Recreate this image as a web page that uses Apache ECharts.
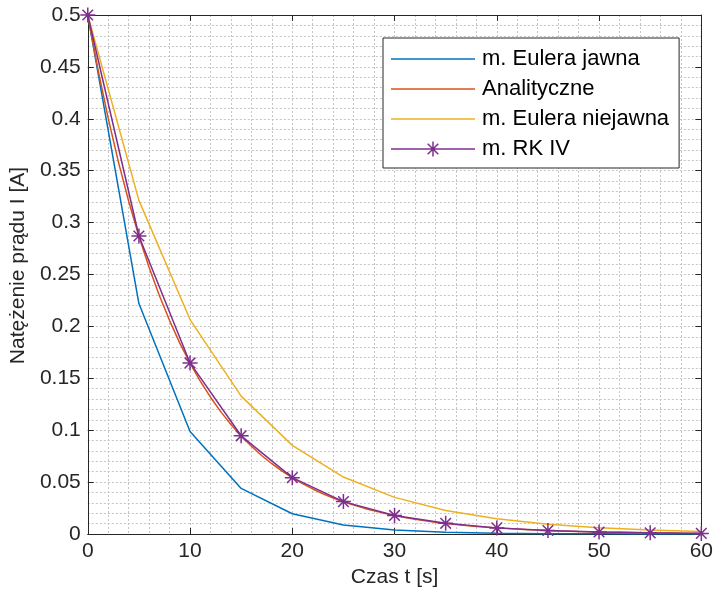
<!DOCTYPE html>
<html>
<head>
<meta charset="utf-8">
<script src="https://cdn.jsdelivr.net/npm/echarts@6/dist/echarts.min.js"></script>
<style>
  html, body { margin: 0; padding: 0; background: #fff; }
  #chart { width: 716px; height: 593px; }
</style>
</head>
<body>
<div id="chart"></div>
<script>
// Time grid of the numerical methods (step h = 5 s)
const tSteps = [0, 5, 10, 15, 20, 25, 30, 35, 40, 45, 50, 55, 60];
// Explicit Euler
const eulerExplicit = [0.5, 0.222, 0.0988, 0.0439, 0.0195, 0.0087, 0.0039, 0.0017, 0.0008, 0.0003, 0.00015, 0.00007, 0.00003];
// Implicit Euler
const eulerImplicit = [0.5, 0.3214, 0.2066, 0.1328, 0.0854, 0.0549, 0.0353, 0.0227, 0.0146, 0.0094, 0.006, 0.0039, 0.0025];
// Runge-Kutta 4th order
const rk4 = [0.5, 0.2871, 0.1648, 0.0946, 0.0543, 0.0312, 0.0179, 0.0103, 0.0059, 0.0034, 0.0019, 0.0011, 0.0006];
// Analytical solution sampled every 1 s
const tFine = [0, 1, 2, 3, 4, 5, 6, 7, 8, 9, 10, 11, 12, 13, 14, 15, 16, 17, 18, 19, 20,
  21, 22, 23, 24, 25, 26, 27, 28, 29, 30, 31, 32, 33, 34, 35, 36, 37, 38, 39, 40,
  41, 42, 43, 44, 45, 46, 47, 48, 49, 50, 51, 52, 53, 54, 55, 56, 57, 58, 59, 60];
const analytical = [0.5, 0.4474, 0.4004, 0.3583, 0.3206, 0.2869, 0.2567, 0.2297, 0.2056, 0.1839, 0.1646,
  0.1473, 0.1318, 0.1179, 0.1055, 0.0944, 0.0845, 0.0756, 0.0677, 0.0605, 0.0542,
  0.0485, 0.0434, 0.0388, 0.0347, 0.0311, 0.0278, 0.0249, 0.0223, 0.0199, 0.0178,
  0.016, 0.0143, 0.0128, 0.0114, 0.0102, 0.0092, 0.0082, 0.0073, 0.0066, 0.0059,
  0.0053, 0.0047, 0.0042, 0.0038, 0.0034, 0.003, 0.0027, 0.0024, 0.0022, 0.0019,
  0.0017, 0.0016, 0.0014, 0.0012, 0.0011, 0.001, 0.0009, 0.0008, 0.0007, 0.0006];

const seriesNames = ['m. Eulera jawna', 'Analityczne', 'm. Eulera niejawna', 'm. RK IV'];
const xTicks = { min: 0, max: 60, interval: 10 };
const yTicks = { min: 0, max: 0.5, interval: 0.05 };

const pair = (xs, ys) => xs.map((x, i) => [x, ys[i]]);

const axisColor = '#262626';
const gridColor = '#c4c4c4';
const font = 'Liberation Sans, Arial, Helvetica, sans-serif';
const asterisk = 'path://M0,-10L0,10M-10,0L10,0M-7.07,-7.07L7.07,7.07M-7.07,7.07L7.07,-7.07';
// plain line sample for legend entries without markers
const lineIcon = 'path://M0,0H84V1.5H0Z';
// line sample with an asterisk in the middle (thin filled bars)
const lineStarIcon = 'path://M0,6.75H84V8.25H0Z' +
  'M41.25,0H42.75V15H41.25Z' +
  'M37.23,1.67L47.83,12.27L46.77,13.33L36.17,2.73Z' +
  'M36.17,12.27L46.77,1.67L47.83,2.73L37.23,13.33Z';

const frameAxis = (extra) => Object.assign({
  type: 'value',
  axisLine: { show: true, onZero: false, lineStyle: { color: axisColor, width: 1 } },
  axisTick: { show: true, inside: true, length: 6, lineStyle: { color: axisColor } },
  axisLabel: { show: false },
  splitLine: { show: false }
}, extra);

const gridLine = { show: true, lineStyle: { color: gridColor, type: [2, 2], width: 1 } };

const chart = echarts.init(document.getElementById('chart'), null, { renderer: 'canvas' });

chart.setOption({
  backgroundColor: '#ffffff',
  animation: false,
  grid: { left: 87, top: 15, width: 618, height: 519, containLabel: false },
  legend: {
    orient: 'vertical',
    left: 383,
    top: 38,
    padding: [10, 10, 8, 8],
    itemGap: 8,
    itemWidth: 84,
    itemHeight: 15,
    backgroundColor: '#ffffff',
    borderColor: axisColor,
    borderWidth: 1,
    borderRadius: 0,
    textStyle: { fontFamily: font, fontSize: 22, color: '#000000', lineHeight: 22, padding: [0, 0, 0, 2] },
    data: [
      { name: seriesNames[0], icon: lineIcon },
      { name: seriesNames[1], icon: lineIcon },
      { name: seriesNames[2], icon: lineIcon },
      { name: seriesNames[3], icon: lineStarIcon, itemStyle: { borderWidth: 0 } }
    ]
  },
  xAxis: [
    frameAxis({
      min: xTicks.min, max: xTicks.max, interval: xTicks.interval,
      position: 'bottom',
      name: 'Czas t [s]',
      nameLocation: 'middle',
      nameGap: 32,
      nameTextStyle: { fontFamily: font, fontSize: 21, color: axisColor },
      axisLabel: { show: true, margin: 7, fontFamily: font, fontSize: 21, color: axisColor },
      splitLine: gridLine,
      minorTick: { show: false, splitNumber: 5 },
      minorSplitLine: gridLine
    }),
    frameAxis({ min: xTicks.min, max: xTicks.max, interval: xTicks.interval, position: 'top' })
  ],
  yAxis: [
    frameAxis({
      min: yTicks.min, max: yTicks.max, interval: yTicks.interval,
      position: 'left',
      name: 'Natężenie prądu I [A]',
      nameLocation: 'middle',
      nameGap: 49,
      nameTextStyle: { fontFamily: font, fontSize: 21, color: axisColor, padding: [0, 0, 0, 18] },
      axisLabel: { show: true, margin: 7, fontFamily: font, fontSize: 21, color: axisColor },
      splitLine: gridLine,
      minorTick: { show: false, splitNumber: 5 },
      minorSplitLine: gridLine
    }),
    frameAxis({ min: yTicks.min, max: yTicks.max, interval: yTicks.interval, position: 'right' })
  ],
  series: [
    {
      name: seriesNames[0], type: 'line', symbol: 'none',
      lineStyle: { color: '#0072BD', width: 1.5 }, itemStyle: { color: '#0072BD' },
      data: pair(tSteps, eulerExplicit)
    },
    {
      name: seriesNames[1], type: 'line', symbol: 'none',
      lineStyle: { color: '#D95319', width: 1.5 }, itemStyle: { color: '#D95319' },
      data: pair(tFine, analytical)
    },
    {
      name: seriesNames[2], type: 'line', symbol: 'none',
      lineStyle: { color: '#EDB120', width: 1.5 }, itemStyle: { color: '#EDB120' },
      data: pair(tSteps, eulerImplicit)
    },
    {
      name: seriesNames[3], type: 'line', symbol: asterisk, symbolSize: 15, clip: false,
      lineStyle: { color: '#7E2F8E', width: 1.5 },
      itemStyle: { color: '#7E2F8E', borderColor: '#7E2F8E', borderWidth: 1.5 },
      data: pair(tSteps, rk4)
    }
  ]
});
</script>
</body>
</html>
